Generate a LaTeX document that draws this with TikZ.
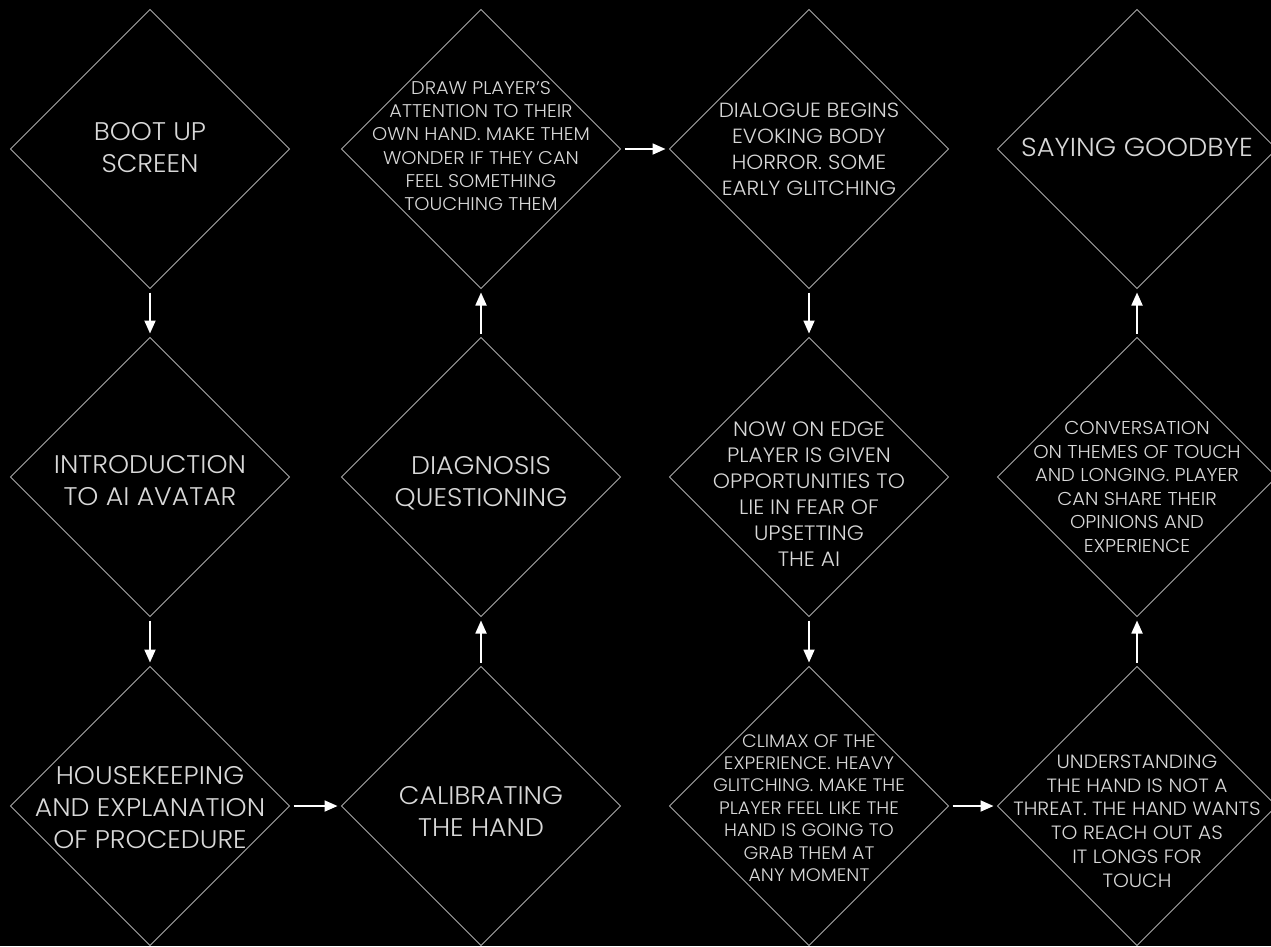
\documentclass[tikz,border=0pt]{standalone}
\usepackage{fontspec}
\setmainfont{Poppins}[UprightFont=* Light, FakeStretch=1.05]
\usetikzlibrary{shapes.geometric,arrows.meta}
\definecolor{linegray}{HTML}{A8A8A8}
\definecolor{textgray}{HTML}{D8D8D8}
\tikzset{
  dia/.style={diamond, draw=linegray, line width=0.95pt, minimum width=279pt, minimum height=279pt, inner sep=0pt, outer sep=0pt},
  txt/.style={text=textgray, align=center, inner sep=0pt},
  big/.style={txt, font=\fontsize{25.5}{32}\selectfont},
  flowarrow/.style={draw=white, line width=1.8pt, -{Triangle[length=13pt,width=11pt]}, shorten <=4pt, shorten >=4pt}
}
\begin{document}
\begin{tikzpicture}[x=1pt,y=-1pt]
\fill[black] (0,0) rectangle (1271,946);
\useasboundingbox (0,0) rectangle (1271,946);
% diamonds
\node[dia] (d1) at (150,149) {};
\node[dia] (d2) at (150,477) {};
\node[dia] (d3) at (150,806) {};
\node[dia] (d4) at (481,806) {};
\node[dia] (d5) at (481,477) {};
\node[dia] (d6) at (481,149) {};
\node[dia] (d7) at (809,149) {};
\node[dia] (d8) at (809,477) {};
\node[dia] (d9) at (809,806) {};
\node[dia] (d10) at (1137,806) {};
\node[dia] (d11) at (1137,477) {};
\node[dia] (d12) at (1137,149) {};
% texts
\node[big] (t1) at (150,148) {BOOT UP\\SCREEN};
\node[big] (t2) at (150,481) {INTRODUCTION\\TO AI AVATAR};
\node[big] (t3) at (150,808) {HOUSEKEEPING\\AND EXPLANATION\\OF PROCEDURE};
\node[big] (t4) at (481,811) {CALIBRATING\\THE HAND};
\node[big] (t5) at (481,483) {DIAGNOSIS\\QUESTIONING};
\node[txt, font=\fontsize{18.4}{23.3}\selectfont] (t6) at (481,146) {DRAW PLAYER'S\\ATTENTION TO THEIR\\OWN HAND. MAKE THEM\\WONDER IF THEY CAN\\FEEL SOMETHING\\TOUCHING THEM};
\node[txt, font=\fontsize{20.5}{26}\selectfont] (t7) at (809,149) {DIALOGUE BEGINS\\EVOKING BODY\\HORROR. SOME\\EARLY GLITCHING};
\node[txt, font=\fontsize{20.8}{26}\selectfont] (t8) at (809,494) {NOW ON EDGE\\PLAYER IS GIVEN\\OPPORTUNITIES TO\\LIE IN FEAR OF\\UPSETTING\\THE AI};
\node[txt, font=\fontsize{18.1}{22.4}\selectfont] (t9) at (809,808) {CLIMAX OF THE\\EXPERIENCE. HEAVY\\GLITCHING. MAKE THE\\PLAYER FEEL LIKE THE\\HAND IS GOING TO\\GRAB THEM AT\\ANY MOMENT};
\node[txt, font=\fontsize{19.2}{23.8}\selectfont] (t10) at (1137,821) {UNDERSTANDING\\THE HAND IS NOT A\\THREAT. THE HAND WANTS\\TO REACH OUT AS\\IT LONGS FOR\\TOUCH};
\node[txt, font=\fontsize{18.6}{23.6}\selectfont] (t11) at (1137,487) {CONVERSATION\\ON THEMES OF TOUCH\\AND LONGING. PLAYER\\CAN SHARE THEIR\\OPINIONS AND\\EXPERIENCE};
\node[txt, font=\fontsize{26}{32}\selectfont] (t12) at (1137,147) {SAYING GOODBYE};
% arrows
\draw[flowarrow] (d1.south) -- (d2.north);
\draw[flowarrow] (d2.south) -- (d3.north);
\draw[flowarrow] (d3.east) -- (d4.west);
\draw[flowarrow] (d4.north) -- (d5.south);
\draw[flowarrow] (d5.north) -- (d6.south);
\draw[flowarrow] (d6.east) -- (d7.west);
\draw[flowarrow] (d7.south) -- (d8.north);
\draw[flowarrow] (d8.south) -- (d9.north);
\draw[flowarrow] (d9.east) -- (d10.west);
\draw[flowarrow] (d10.north) -- (d11.south);
\draw[flowarrow] (d11.north) -- (d12.south);
\end{tikzpicture}
\end{document}
